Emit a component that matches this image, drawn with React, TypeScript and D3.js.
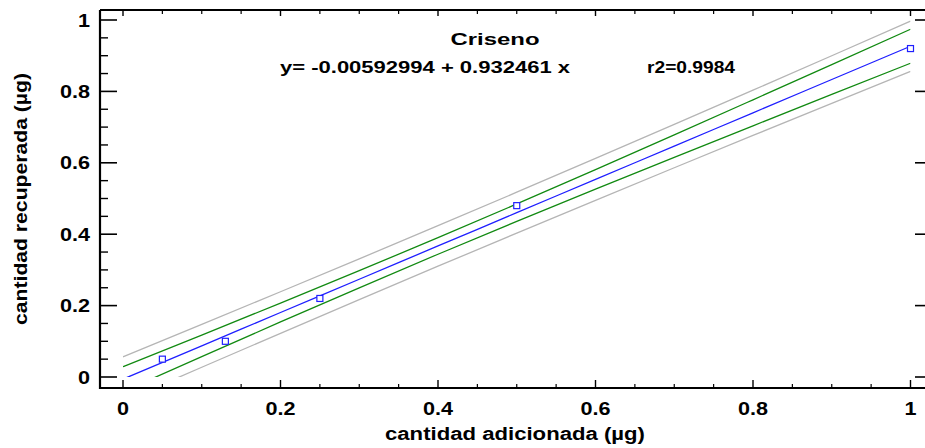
import React from "react";
import * as d3 from "d3";

const W = 925;
const H = 448;

const chartTitle = "Criseno";
const equationText = "y= -0.00592994 + 0.932461 x";
const r2Text = "r2=0.9984";
const xTitle = "cantidad adicionada (µg)";
const yTitle = "cantidad recuperada (µg)";

const majorTicks = [0, 0.2, 0.4, 0.6, 0.8, 1];
const tickLabels = ["0", "0.2", "0.4", "0.6", "0.8", "1"];
const minorTicks = [0.05, 0.1, 0.15, 0.25, 0.3, 0.35, 0.45, 0.5, 0.55, 0.65, 0.7, 0.75, 0.85, 0.9, 0.95];

const pointsX = [0.05, 0.13, 0.25, 0.5, 1.0];
const pointsY = [0.05, 0.1, 0.22, 0.48, 0.92];

const lineX = [0, 0.1, 0.2, 0.3, 0.4, 0.5, 0.6, 0.7, 0.8, 0.9, 1.0];
const fitY = [-0.0059, 0.0873, 0.1806, 0.2738, 0.3671, 0.4603, 0.5536, 0.6468, 0.7401, 0.8333, 0.9265];
const confUpper = [0.029, 0.1175, 0.207, 0.2977, 0.3903, 0.4847, 0.581, 0.6783, 0.7765, 0.8751, 0.9741];
const confLower = [-0.0408, 0.0571, 0.1542, 0.2499, 0.3439, 0.4359, 0.5262, 0.6153, 0.7037, 0.7915, 0.8789];
const predUpper = [0.0566, 0.1473, 0.2388, 0.3309, 0.4239, 0.5176, 0.6122, 0.7075, 0.8035, 0.8999, 0.9969];
const predLower = [-0.0684, 0.0273, 0.1224, 0.2167, 0.3103, 0.403, 0.495, 0.5861, 0.6767, 0.7667, 0.8561];

const FONT = "'Liberation Sans', Arial, Helvetica, sans-serif";

export default function App() {
  const x = d3.scaleLinear().domain([0, 1]).range([123, 910.5]);
  const y = d3.scaleLinear().domain([0, 1]).range([377, 20]);

  const frameLeft = 100;
  const frameRight = 925;
  const frameTop = 10;
  const frameBottom = 388;

  const line = (ys: number[]) =>
    d3
      .line<number>()
      .x((_, i) => x(lineX[i]))
      .y((d) => y(d))
      .curve(d3.curveMonotoneX)(ys) || "";

  const series = [
    { ys: predUpper, color: "#b5b5b5" },
    { ys: predLower, color: "#b5b5b5" },
    { ys: confUpper, color: "#128a12" },
    { ys: confLower, color: "#128a12" },
    { ys: fitY, color: "#1f1fff" },
  ];

  const sx = 1.2;

  return (
    <svg
      width={W}
      height={H}
      style={{ position: "absolute", left: 0, top: 0, background: "#fff" }}
      fontFamily={FONT}
    >
      <defs>
        <clipPath id="plotclip">
          <rect x={x(0)} y={y(1.05)} width={x(1) - x(0)} height={y(0) - y(1.05)} />
        </clipPath>
      </defs>

      {/* frame */}
      <line x1={frameLeft} x2={frameLeft} y1={frameTop} y2={frameBottom + 1} stroke="#000" strokeWidth={2.2} />
      <line x1={frameLeft - 1} x2={frameRight} y1={frameBottom} y2={frameBottom} stroke="#000" strokeWidth={2.2} />
      <line x1={frameLeft} x2={frameRight} y1={frameTop} y2={frameTop} stroke="#000" strokeWidth={1.8} />

      {/* y ticks */}
      {majorTicks.map((t) => (
        <line key={"ym" + t} x1={frameLeft} x2={frameLeft + 17} y1={y(t)} y2={y(t)} stroke="#000" strokeWidth={1.6} />
      ))}
      {minorTicks.map((t) => (
        <line key={"yn" + t} x1={frameLeft} x2={frameLeft + 8} y1={y(t)} y2={y(t)} stroke="#000" strokeWidth={1.4} />
      ))}
      {/* right ticks */}
      {majorTicks.map((t) => (
        <line key={"yr" + t} x1={915} x2={frameRight} y1={y(t)} y2={y(t)} stroke="#000" strokeWidth={1.6} />
      ))}

      {/* x ticks bottom */}
      {majorTicks.map((t) => (
        <line key={"xm" + t} x1={x(t)} x2={x(t)} y1={frameBottom} y2={frameBottom - 8} stroke="#000" strokeWidth={1.4} />
      ))}
      {minorTicks.map((t) => (
        <line key={"xn" + t} x1={x(t)} x2={x(t)} y1={frameBottom} y2={frameBottom - 4} stroke="#000" strokeWidth={1.2} />
      ))}
      {/* x ticks top */}
      {majorTicks.map((t) => (
        <line key={"xtm" + t} x1={x(t)} x2={x(t)} y1={frameTop} y2={frameTop + 6} stroke="#000" strokeWidth={1.4} />
      ))}
      {minorTicks.map((t) => (
        <line key={"xtn" + t} x1={x(t)} x2={x(t)} y1={frameTop} y2={frameTop + 4} stroke="#000" strokeWidth={1.2} />
      ))}

      {/* tick labels */}
      {majorTicks.map((t, i) => (
        <text
          key={"yl" + t}
          transform={`translate(90,${y(t) + 6.5}) scale(${sx},1)`}
          textAnchor="end"
          fontSize={18}
          fontWeight="bold"
          fill="#000"
        >
          {tickLabels[i]}
        </text>
      ))}
      {majorTicks.map((t, i) => (
        <text
          key={"xl" + t}
          transform={`translate(${x(t)},415) scale(${sx},1)`}
          textAnchor="middle"
          fontSize={18}
          fontWeight="bold"
          fill="#000"
        >
          {tickLabels[i]}
        </text>
      ))}

      {/* axis titles */}
      <text x={515} y={440} textAnchor="middle" fontSize={18} fontWeight="bold" textLength={260} lengthAdjust="spacingAndGlyphs">
        {xTitle}
      </text>
      <text
        transform={`translate(27,199) rotate(-90)`}
        textAnchor="middle"
        fontSize={17.8}
        fontWeight="bold"
        textLength={252}
        lengthAdjust="spacingAndGlyphs"
      >
        {yTitle}
      </text>

      {/* title & equation */}
      <text x={495} y={45} textAnchor="middle" fontSize={17.2} fontWeight="bold" textLength={89} lengthAdjust="spacingAndGlyphs">
        {chartTitle}
      </text>
      <text x={280} y={73} fontSize={17.2} fontWeight="bold" textLength={290} lengthAdjust="spacingAndGlyphs">
        {equationText}
      </text>
      <text x={647} y={73} fontSize={17.2} fontWeight="bold" textLength={88} lengthAdjust="spacingAndGlyphs">
        {r2Text}
      </text>

      {/* curves */}
      <g clipPath="url(#plotclip)" fill="none">
        {series.map((s, i) => (
          <path key={i} d={line(s.ys)} stroke={s.color} strokeWidth={1.3} />
        ))}
      </g>

      {/* points */}
      {pointsX.map((px, i) => (
        <rect
          key={"p" + i}
          x={x(px) - 3}
          y={y(pointsY[i]) - 3}
          width={6}
          height={6}
          fill="#fff"
          stroke="#1f1fff"
          strokeWidth={1.2}
        />
      ))}
    </svg>
  );
}
